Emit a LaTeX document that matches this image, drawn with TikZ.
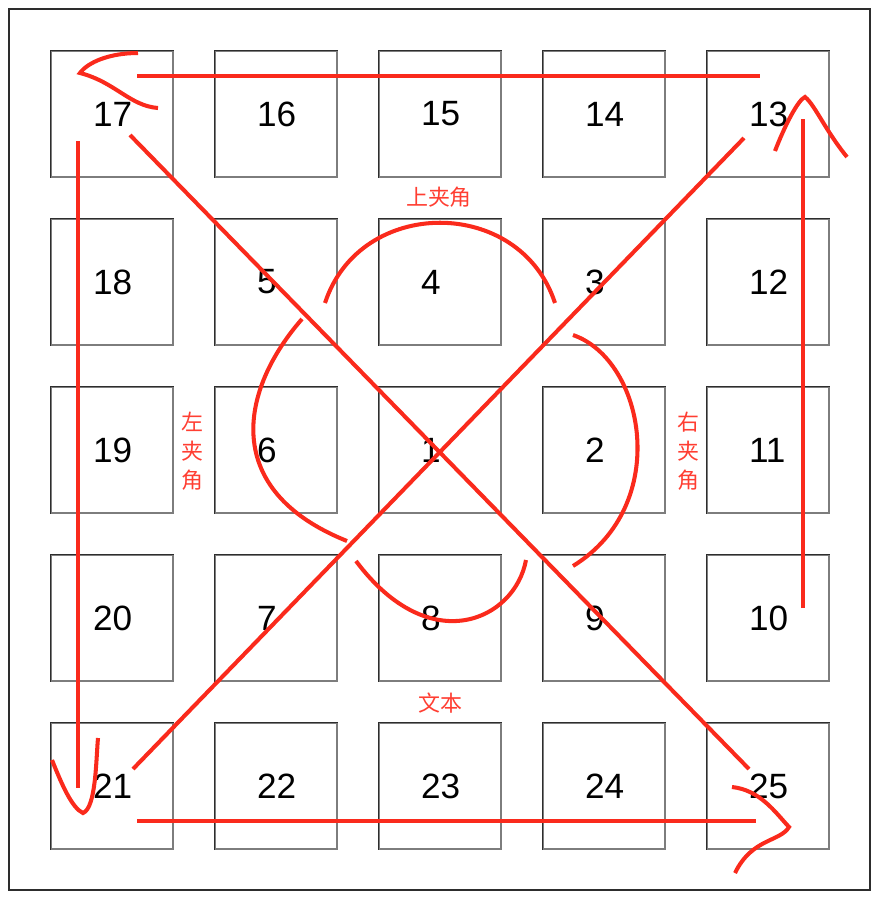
\documentclass[tikz,border=0pt]{standalone}
\usepackage{fontspec}
\setmainfont{Liberation Sans}
\newfontfamily\cjk{Noto Sans CJK SC}
\usetikzlibrary{shapes,calc}
\definecolor{markred}{RGB}{250,42,28}
\definecolor{notered}{RGB}{255,62,50}
\definecolor{celldark}{RGB}{45,45,45}
\definecolor{cellgray}{RGB}{125,125,125}
\tikzset{
  cell/.style={draw=cellgray,line width=0.75pt,rectangle,minimum height=2.52cm,text width=2.44cm,
    inner xsep=0pt,inner ysep=0pt,align=left,font=\fontsize{20}{24}\selectfont,
    execute at begin node={\hspace*{0.84cm}}},
  celledge/.style={draw=celldark,line width=0.75pt},
  note/.style={text=notered,font=\cjk\fontsize{12.5}{16.5}\selectfont,align=center,inner sep=0pt},
  redline/.style={draw=markred,line width=2.3pt}
}

\begin{document}
\begin{tikzpicture}[x=0.02cm,y=-0.02cm]
  \useasboundingbox (0,0) rectangle (878,900);
  \draw[draw=celldark,line width=1pt] (9,9) rectangle (870,890);

  \node[cell] (b17) at (112,114) {17};
  \node[cell] (b16) at (276,114) {16};
  \node[cell] (b15) at (440,114) {15};
  \node[cell] (b14) at (604,114) {14};
  \node[cell] (b13) at (768,114) {13};

  \node[cell] (b18) at (112,282) {18};
  \node[cell] (b5)  at (276,282) {5};
  \node[cell] (b4)  at (440,282) {4};
  \node[cell] (b3)  at (604,282) {3};
  \node[cell] (b12) at (768,282) {12};

  \node[cell] (b19) at (112,450) {19};
  \node[cell] (b6)  at (276,450) {6};
  \node[cell] (b1)  at (440,450) {1};
  \node[cell] (b2)  at (604,450) {2};
  \node[cell] (b11) at (768,450) {11};

  \node[cell] (b20) at (112,618) {20};
  \node[cell] (b7)  at (276,618) {7};
  \node[cell] (b8)  at (440,618) {8};
  \node[cell] (b9)  at (604,618) {9};
  \node[cell] (b10) at (768,618) {10};

  \node[cell] (b21) at (112,786) {21};
  \node[cell] (b22) at (276,786) {22};
  \node[cell] (b23) at (440,786) {23};
  \node[cell] (b24) at (604,786) {24};
  \node[cell] (b25) at (768,786) {25};

  \foreach \n in {1,...,25}
    \draw[celledge] (b\n.south west) |- (b\n.north east);

  \node[note] (top)   at (439,197) {上夹角};
  \node[note] (text)  at (440,703) {文本};
  \node[note] (left)  at (192,451) {左\\夹\\角};
  \node[note] (right) at (688,451) {右\\夹\\角};

  \coordinate (topA) at (137,76);  \coordinate (topB) at (760,76);
  \coordinate (leftA) at (78,141); \coordinate (leftB) at (78,788);
  \coordinate (botA) at (137,821); \coordinate (botB) at (756,821);
  \coordinate (rightA) at (803,608); \coordinate (rightB) at (803,119);
  \coordinate (diagA) at (130,135); \coordinate (diagB) at (749,769);
  \coordinate (diagC) at (133,769); \coordinate (diagD) at (744,138);

  \draw[redline] (topA) -- (topB);
  \draw[redline] (leftA) -- (leftB);
  \draw[redline] (botA) -- (botB);
  \draw[redline] (rightA) -- (rightB);
  \draw[redline] (diagA) -- (diagB);
  \draw[redline] (diagC) -- (diagD);

  \draw[redline] (138,53) .. controls (110,53) and (88,62) .. (80,73)
                 .. controls (115,82) and (130,106) .. (158,108);
  \draw[redline] (52,760) .. controls (62,785) and (72,808) .. (83,813)
                 .. controls (96,808) and (96,760) .. (98,738);
  \draw[redline] (732,787) .. controls (760,790) and (775,812) .. (789,827)
                 .. controls (780,842) and (752,838) .. (735,873);
  \draw[redline] (775,151) .. controls (785,125) and (798,100) .. (805,97)
                 .. controls (815,105) and (825,130) .. (847,157);

  \draw[redline] (325,303) .. controls (360,196) and (520,196) .. (555,303);
  \draw[redline] (302,319) .. controls (240,390) and (220,490) .. (347,541);
  \draw[redline] (356,561) .. controls (430,660) and (515,620) .. (526,560);
  \draw[redline] (573,335) .. controls (645,360) and (672,505) .. (573,566);

\end{tikzpicture}
\end{document}
